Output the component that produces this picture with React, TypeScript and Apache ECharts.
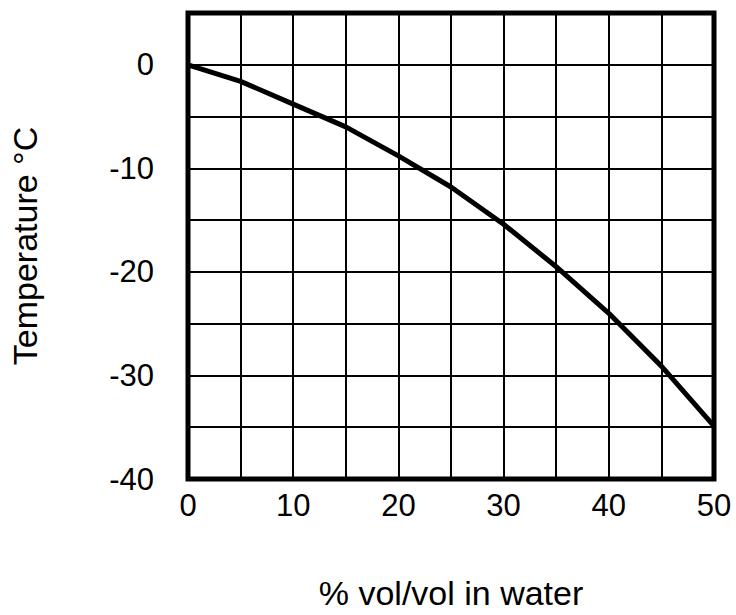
import React, { useEffect, useRef } from "react";
import * as echarts from "echarts";

const concentration = [0, 5, 10, 15, 20, 25, 30, 35, 40, 45, 50];
const temperature = [0, -1.6, -3.8, -6.0, -8.8, -11.8, -15.4, -19.5, -24.0, -29.1, -34.9];
const xAxisTitle = "% vol/vol in water";
const yAxisTitle = "Temperature °C";

export default function App() {
  const ref = useRef<HTMLDivElement>(null);
  useEffect(() => {
    if (!ref.current) return;
    const chart = echarts.init(ref.current, undefined, { renderer: "svg" });
    const font = "'Liberation Sans', Arial, sans-serif";
    chart.setOption({
      animation: false,
      backgroundColor: "#ffffff",
      grid: {
        left: 187,
        right: 22,
        top: 13,
        bottom: 127,
        show: true,
        borderColor: "#000",
        borderWidth: 5,
        backgroundColor: "transparent",
      },
      xAxis: {
        type: "value",
        min: 0,
        max: 50,
        interval: 5,
        name: xAxisTitle,
        nameLocation: "middle",
        nameGap: 97,
        nameTextStyle: { color: "#000", fontSize: 34, fontFamily: font },
        axisLine: { show: false },
        axisTick: { show: false },
        axisLabel: {
          color: "#000",
          fontSize: 31,
          fontFamily: font,
          margin: 11,
          formatter: (v: number) => (v % 10 === 0 ? String(v) : ""),
        },
        splitLine: { show: true, lineStyle: { color: "#000", width: 2 } },
      },
      yAxis: {
        type: "value",
        min: -40,
        max: 5,
        interval: 5,
        name: yAxisTitle,
        nameLocation: "middle",
        nameGap: 146,
        nameRotate: 90,
        nameTextStyle: { color: "#000", fontSize: 34, fontFamily: font },
        axisLine: { show: false },
        axisTick: { show: false },
        axisLabel: {
          color: "#000",
          fontSize: 31,
          fontFamily: font,
          margin: 34,
          formatter: (v: number) => (v % 10 === 0 && v <= 0 ? String(v) : ""),
        },
        splitLine: { show: true, lineStyle: { color: "#000", width: 2 } },
      },
      series: [
        {
          type: "line",
          data: concentration.map((x, i) => [x, temperature[i]]),
          symbol: "none",
          smooth: false,
          lineStyle: { color: "#000", width: 5 },
          z: 5,
        },
      ],
    });
    return () => chart.dispose();
  }, []);
  return (
    <div
      ref={ref}
      style={{ position: "absolute", left: 0, top: 0, width: 736, height: 615 }}
    />
  );
}
